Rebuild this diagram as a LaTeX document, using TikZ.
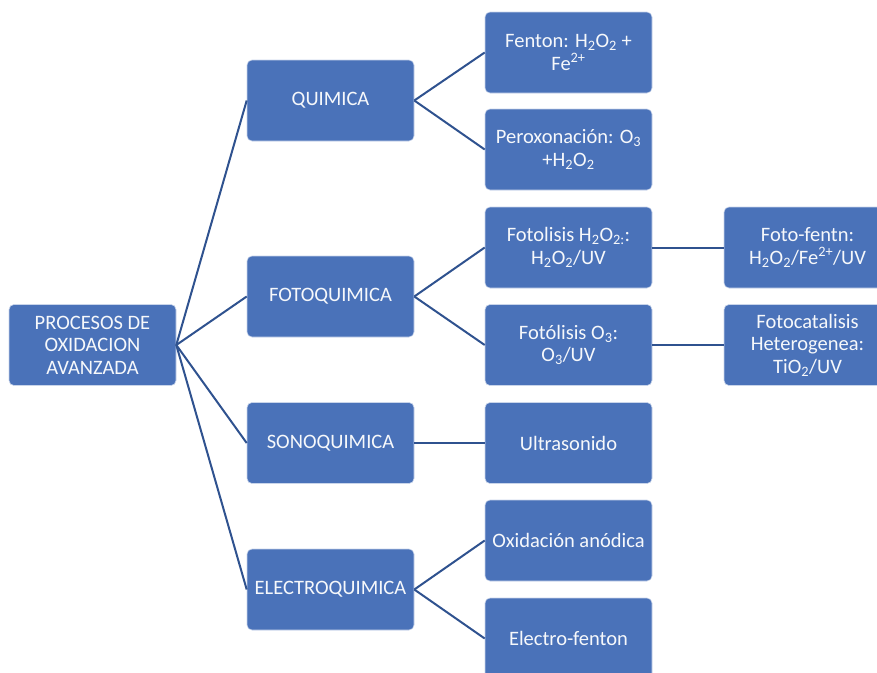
\documentclass[tikz,border=0pt]{standalone}
\usepackage{fontspec}
\setmainfont{Carlito}
\definecolor{boxblue}{HTML}{4A72B9}
\definecolor{linkblue}{HTML}{2F528F}
\begin{document}
\begin{tikzpicture}[x=1pt,y=-1pt,
  box/.style={rectangle,rounded corners=5pt,fill=boxblue,draw=white!70!boxblue,line width=0.6pt,
    minimum width=167pt,minimum height=81pt,text=white!95!boxblue,align=center,
    font=\fontsize{20.5}{22.5}\selectfont,inner sep=2pt},
  link/.style={draw=linkblue,line width=2pt}]
\useasboundingbox (0,0) rectangle (877,672);
\clip (0,0) rectangle (877,672);
\node[box] (root) at (92.5,345) {PROCESOS DE\\OXIDACION\\AVANZADA};
\node[box] (qui) at (330.5,100.5) {QUIMICA};
\node[box] (foto) at (330.5,296.5) {FOTOQUIMICA};
\node[box] (sono) at (330.5,443) {SONOQUIMICA};
\node[box] (elec) at (330.5,589.5) {ELECTROQUIMICA};
\node[box] (fen) at (568.5,52.5) {Fenton: H\textsubscript{2}O\textsubscript{2} +\\Fe\textsuperscript{2+}};
\node[box] (per) at (568.5,149.5) {Peroxonación: O\textsubscript{3}\\+H\textsubscript{2}O\textsubscript{2}};
\node[box] (fh) at (568.5,247.5) {Fotolisis H\textsubscript{2}O\textsubscript{2:}:\\H\textsubscript{2}O\textsubscript{2}/UV};
\node[box] (fo) at (568.5,345) {Fotólisis O\textsubscript{3}:\\O\textsubscript{3}/UV};
\node[box] (ult) at (568.5,443) {Ultrasonido};
\node[box] (oxa) at (568.5,540.5) {Oxidación anódica};
\node[box] (ef) at (568.5,638.5) {Electro-fenton};
\node[box] (ff) at (807.5,247.5) {Foto-fentn:\\H\textsubscript{2}O\textsubscript{2}/Fe\textsuperscript{2+}/UV};
\node[box] (fc) at (807.5,345) {Fotocatalisis\\Heterogenea:\\TiO\textsubscript{2}/UV};
\foreach \t in {qui,foto,sono,elec} \draw[link] (root.east) -- (\t.west);
\draw[link] (qui.east) -- (fen.west);
\draw[link] (qui.east) -- (per.west);
\draw[link] (foto.east) -- (fh.west);
\draw[link] (foto.east) -- (fo.west);
\draw[link] (sono.east) -- (ult.west);
\draw[link] (elec.east) -- (oxa.west);
\draw[link] (elec.east) -- (ef.west);
\draw[link] (fh.east) -- (ff.west);
\draw[link] (fo.east) -- (fc.west);
\end{tikzpicture}
\end{document}
